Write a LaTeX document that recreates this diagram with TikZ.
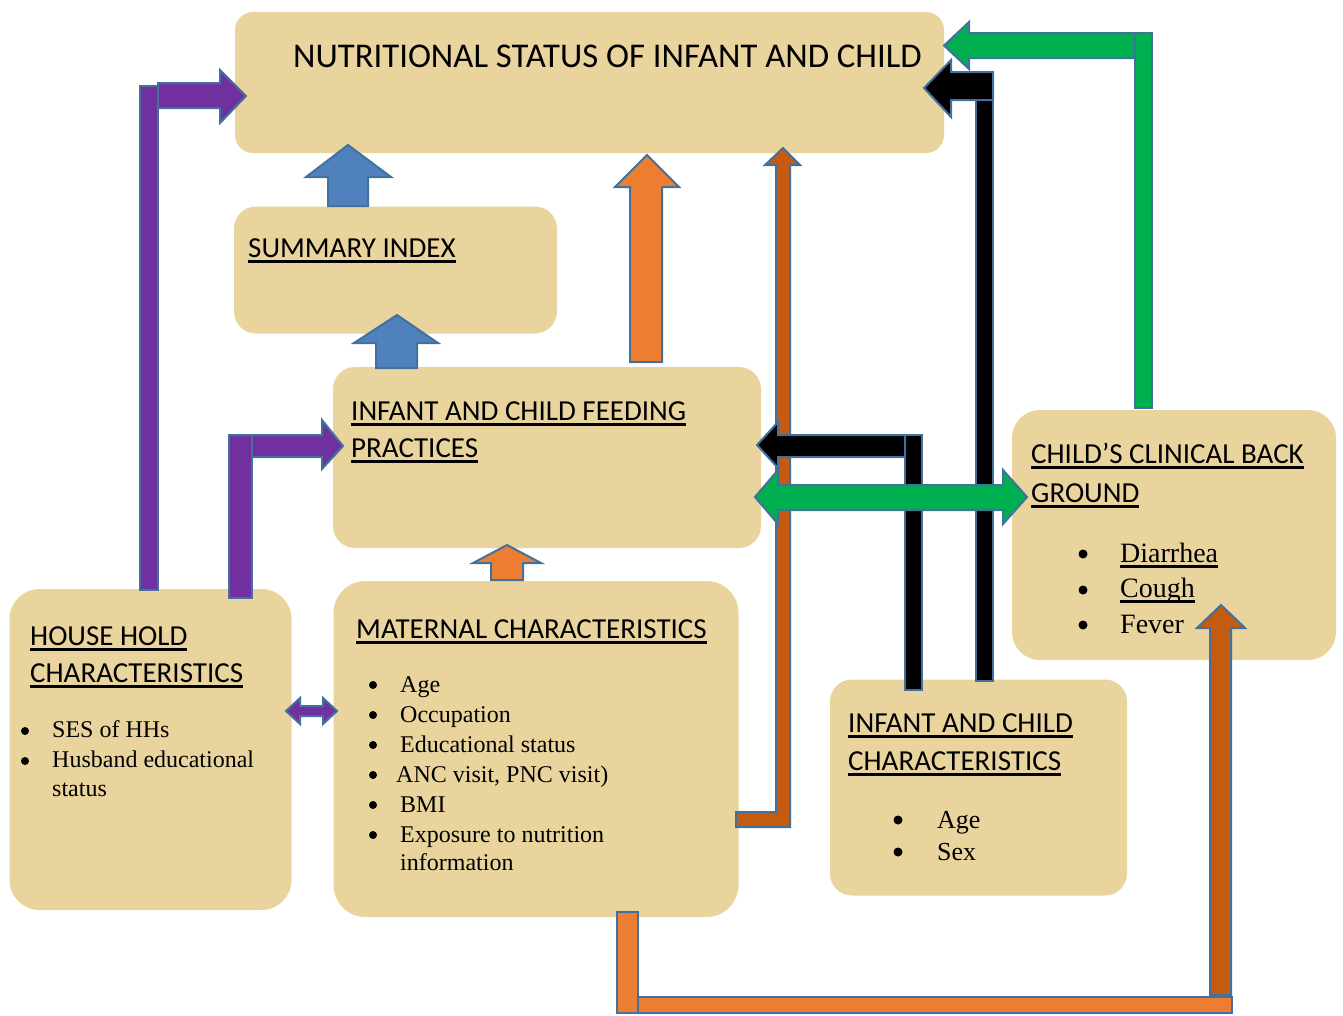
\documentclass[tikz,border=0pt]{standalone}
\usepackage{fontspec}
\setmainfont{Liberation Serif}
\newfontfamily\calfont{Carlito}
\definecolor{papyrus}{RGB}{233,212,158}
\definecolor{apurple}{HTML}{7030A0}
\definecolor{agreen}{HTML}{00B050}
\definecolor{aorange}{HTML}{ED7D31}
\definecolor{adorange}{HTML}{C55A11}
\definecolor{ablue}{HTML}{4F81BD}
\definecolor{aline}{HTML}{41719C}
\newcommand\ulh[1]{\setbox0\hbox{#1}\rlap{\rule[-6pt]{\wd0}{3pt}}\box0}
\newcommand\ult[1]{\setbox0\hbox{#1}\rlap{\rule[-5.5pt]{\wd0}{2.5pt}}\box0}
\tikzset{
  box/.style={fill=papyrus, rounded corners=22pt, inner sep=0pt, draw=none},
  blk/.style={draw=aline, line width=2pt, line join=miter},
  hd/.style={font=\calfont\fontsize{29}{35}\selectfont, anchor=base west, inner sep=0pt},
  itm/.style={font=\fontsize{24}{29}\selectfont, anchor=base west, inner sep=0pt},
  bul/.style={circle, fill=black, inner sep=0pt, minimum size=8pt},
}
\begin{document}
\begin{tikzpicture}[x=1pt,y=-1pt]
\useasboundingbox (0,0) rectangle (1343,1015);
% boxes
\node[box, rounded corners=18pt, minimum width=709pt, minimum height=141pt] (nut) at (589.5,82.5) {};
\node[box, minimum width=323pt, minimum height=127pt] (sum) at (395.5,270) {};
\node[box, minimum width=428pt, minimum height=181pt] (feed) at (547,457.5) {};
\node[box, rounded corners=30pt, minimum width=282pt, minimum height=321pt] (hh) at (150.5,749.5) {};
\node[box, rounded corners=32pt, minimum width=405pt, minimum height=336pt] (mat) at (536,749) {};
\node[box, minimum width=297pt, minimum height=216pt] (ich) at (978.5,787.5) {};
\node[box, rounded corners=28pt, minimum width=324pt, minimum height=250pt] (clin) at (1174,535) {};
% dark orange maternal -> nutrition
\draw[blk, fill=adorange] (736,812) -- (776,812) -- (776,165) -- (765,165) -- (783,148) -- (800,165) -- (790,165) -- (790,827) -- (736,827) -- cycle;
% bottom orange maternal -> clinical
\draw[blk, fill=aorange] (617,912) rectangle (638,1013);
\draw[blk, fill=aorange] (638,997) rectangle (1232,1013);
\draw[blk, fill=adorange] (1210,995) -- (1210,628) -- (1197,628) -- (1221,605) -- (1245,628) -- (1231,628) -- (1231,995) -- cycle;
% orange feeding -> nutrition
\draw[blk, fill=aorange] (630,362) -- (630,187) -- (615,187) -- (647,155) -- (679,187) -- (662,187) -- (662,362) -- cycle;
% small orange maternal -> feeding
\draw[blk, fill=aorange] (491,580) -- (491,563) -- (473,563) -- (507,545) -- (541,563) -- (523,563) -- (523,580) -- cycle;
% blue arrows
\draw[blk, fill=ablue] (328,206) -- (328,177) -- (306,177) -- (348,145) -- (391,177) -- (368,177) -- (368,206) -- cycle;
\draw[blk, fill=ablue] (376,368) -- (376,343) -- (354,343) -- (397,315) -- (438,343) -- (417,343) -- (417,368) -- cycle;
% purple arrows
\draw[blk, fill=apurple] (140,86) rectangle (158,590);
\draw[blk, fill=apurple] (158,83) -- (220,83) -- (220,70) -- (246,96) -- (220,123) -- (220,108) -- (158,108) -- cycle;
\draw[blk, fill=apurple] (229,435) rectangle (252,598);
\draw[blk, fill=apurple] (252,435) -- (322,435) -- (322,420) -- (343,446) -- (322,469) -- (322,457) -- (252,457) -- cycle;
\draw[blk, fill=apurple] (286,711) -- (300,698) -- (300,706) -- (323,706) -- (323,698) -- (337,711) -- (323,724) -- (323,716) -- (300,716) -- (300,724) -- cycle;
% black infant char -> nutrition
\draw[blk, fill=black] (976,72) rectangle (993,681);
\draw[blk, fill=black] (993,72) -- (951,72) -- (951,60) -- (924,88) -- (951,117) -- (951,100) -- (993,100) -- cycle;
% black infant char -> feeding
\draw[blk, fill=black] (905,435) rectangle (922,690);
\draw[blk, fill=black] (905,435) -- (778,435) -- (778,422) -- (757,445) -- (778,468) -- (778,457) -- (905,457) -- cycle;
% green clinical -> nutrition
\draw[blk, fill=agreen] (1135,33) rectangle (1152,408);
\draw[blk, fill=agreen] (1135,33) -- (969,33) -- (969,22) -- (944,45.5) -- (969,69) -- (969,58) -- (1135,58) -- cycle;
% green feeding <-> clinical
\draw[blk, fill=agreen] (755,497) -- (778,470) -- (778,485) -- (1003,485) -- (1003,470) -- (1027,497) -- (1003,524) -- (1003,510) -- (778,510) -- (778,524) -- cycle;
% texts
\node[font=\calfont\fontsize{34.7}{40}\selectfont, anchor=base west, inner sep=0pt] (tnut) at (293,67) {NUTRITIONAL STATUS OF INFANT AND CHILD};
\node[hd] (tsum) at (248,257) {\ulh{SUMMARY INDEX}};
\node[hd] (tfeed1) at (351,420) {\ulh{INFANT AND CHILD FEEDING}};
\node[hd] (tfeed2) at (351,457) {\ulh{PRACTICES}};
\node[hd] (thh1) at (30,645) {\ulh{HOUSE HOLD}};
\node[hd] (thh2) at (30,682) {\ulh{CHARACTERISTICS}};
\node[hd] (tmat) at (356,638) {\ulh{MATERNAL CHARACTERISTICS}};
\node[hd] (tclin1) at (1031,463) {\ulh{CHILD’S CLINICAL BACK}};
\node[hd] (tclin2) at (1031,502) {\ulh{GROUND}};
\node[hd] (tich1) at (848,732) {\ulh{INFANT AND CHILD}};
\node[hd] (tich2) at (848,770) {\ulh{CHARACTERISTICS}};
% household items
\node[bul] (bh1) at (25,731) {};
\node[bul] (bh2) at (25,761) {};
\node[itm] (ih1) at (52,737) {SES of HHs};
\node[itm] (ih2) at (52,767) {Husband educational};
\node[itm] (ih3) at (52,796) {status};
% maternal items
\node[bul] (bm1) at (373,685) {};
\node[bul] (bm2) at (373,715) {};
\node[bul] (bm3) at (373,745) {};
\node[bul] (bm4) at (373,775) {};
\node[bul] (bm5) at (373,805) {};
\node[bul] (bm6) at (373,835) {};
\node[itm] (im1) at (400,692) {Age};
\node[itm] (im2) at (400,722) {Occupation};
\node[itm] (im3) at (400,752) {Educational status};
\node[itm] (im4) at (396,782) {ANC visit, PNC visit)};
\node[itm] (im5) at (400,812) {BMI};
\node[itm] (im6) at (400,842) {Exposure to nutrition};
\node[itm] (im7) at (400,870) {information};
% infant char items
\node[bul, minimum size=9pt] (bi1) at (898,820) {};
\node[bul, minimum size=9pt] (bi2) at (898,852) {};
\node[itm, font=\fontsize{26}{31}\selectfont] (ii1) at (937,828) {Age};
\node[itm, font=\fontsize{26}{31}\selectfont] (ii2) at (937,860) {Sex};
% clinical items
\node[bul, minimum size=9pt] (bc1) at (1083,554) {};
\node[bul, minimum size=9pt] (bc2) at (1083,590) {};
\node[bul, minimum size=9pt] (bc3) at (1083,625) {};
\node[itm, font=\fontsize{28}{33}\selectfont] (ic1) at (1120,562) {\ult{Diarrhea}};
\node[itm, font=\fontsize{28}{33}\selectfont] (ic2) at (1120,597) {\ult{Cough}};
\node[itm, font=\fontsize{28}{33}\selectfont] (ic3) at (1120,633) {Fever};
\end{tikzpicture}
\end{document}
